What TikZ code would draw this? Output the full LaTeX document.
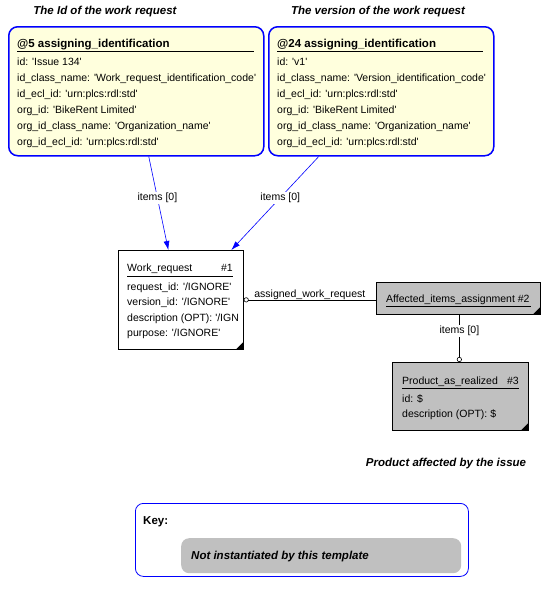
\documentclass[tikz,border=0pt]{standalone}
\usepackage{fontspec}
\setmainfont{Liberation Sans}[Ligatures=TeXOff]
\usepackage{tikz}
\usetikzlibrary{arrows.meta}
\usetikzlibrary{positioning}
\definecolor{idyellow}{RGB}{255,255,221}
\definecolor{tplgray}{RGB}{192,192,192}
\tikzset{
  idbox/.style={draw=blue, line width=1.5pt, rounded corners=9pt, fill=idyellow, anchor=north west, inner sep=0pt},
  entbox/.style={draw=black, line width=0.7pt, anchor=north west, inner sep=0pt},
  attr/.style={anchor=base west, inner sep=0pt, font=\fontsize{10.5}{12}\selectfont},
  head/.style={anchor=base west, inner sep=0pt, font=\bfseries\fontsize{11.5}{13}\selectfont},
  note/.style={anchor=base, inner sep=0pt, font=\bfseries\itshape\fontsize{11.5}{13}\selectfont},
  ref/.style={blue, line width=0.6pt, -{Latex[length=9pt,width=6pt]}},
  role/.style={fill=white, text=black, inner sep=1pt, font=\fontsize{10.5}{12}\selectfont},
}
\begin{document}
\begin{tikzpicture}[x=1pt,y=-1pt]
\useasboundingbox (0,0) rectangle (549,590);
% draws boxes
\node[idbox, minimum width=255pt, minimum height=129pt] (id5) at (8,26) {};
\node[idbox, minimum width=225pt, minimum height=129pt] (id24) at (268,26) {};
\node[entbox, fill=white, minimum width=125pt, minimum height=99pt] (wr) at (118,250) {};
\node[entbox, fill=tplgray, minimum width=164pt, minimum height=32pt] (aff) at (376,282) {};
\node[entbox, fill=tplgray, minimum width=136pt, minimum height=68pt] (par) at (392,362) {};
\node[draw=blue, line width=0.8pt, rounded corners=8pt, anchor=north west, minimum width=333pt, minimum height=73pt] (key) at (135,503) {};
\node[fill=tplgray, rounded corners=8pt, anchor=north west, minimum width=280pt, minimum height=35pt] (tpl) at (181,538) {};
% corner marks
\fill ([xshift=-8pt]wr.south east) -- (wr.south east) -- ([yshift=8pt]wr.south east) -- cycle;
\fill ([xshift=-8pt]aff.south east) -- (aff.south east) -- ([yshift=8pt]aff.south east) -- cycle;
\fill ([xshift=-8pt]par.south east) -- (par.south east) -- ([yshift=8pt]par.south east) -- cycle;
% titles
\node[note] (t5) at (105,14) {The Id of the work request};
\node[note] (t24) at (378,14) {The version of the work request};
\node[note] (tpar) at (446,466) {Product affected by the issue};
% @5
\node[head] (h5) at (17,47) {@5 assigning\_identification};
\draw[line width=0.8pt] (17,51) -- (254,51);
\node[attr] (a51) at (17,65) {id: 'Issue 134'};
\node[attr] (a52) at (17,81) {id\_class\_name: 'Work\_request\_identification\_code'};
\node[attr] (a53) at (17,97) {id\_ecl\_id: 'urn:plcs:rdl:std'};
\node[attr] (a54) at (17,113) {org\_id: 'BikeRent Limited'};
\node[attr] (a55) at (17,129) {org\_id\_class\_name: 'Organization\_name'};
\node[attr] (a56) at (17,145) {org\_id\_ecl\_id: 'urn:plcs:rdl:std'};
% @24
\node[head] (h24) at (277,47) {@24 assigning\_identification};
\draw[line width=0.8pt] (277,51) -- (483,51);
\node[attr] (a241) at (277,65) {id: 'v1'};
\node[attr] (a242) at (277,81) {id\_class\_name: 'Version\_identification\_code'};
\node[attr] (a243) at (277,97) {id\_ecl\_id: 'urn:plcs:rdl:std'};
\node[attr] (a244) at (277,113) {org\_id: 'BikeRent Limited'};
\node[attr] (a245) at (277,129) {org\_id\_class\_name: 'Organization\_name'};
\node[attr] (a246) at (277,145) {org\_id\_ecl\_id: 'urn:plcs:rdl:std'};
% Work_request
\node[attr] (hwr) at (127,271) {Work\_request};
\node[attr, anchor=base east] (nwr) at (233,271) {\#1};
\draw[line width=0.7pt] (127,276) -- (233,276);
\node[attr] (wr1) at (127,290) {request\_id: '/IGNORE'};
\node[attr] (wr2) at (127,305) {version\_id: '/IGNORE'};
\node[attr] (wr3) at (127,321) {description (OPT): '/IGN};
\node[attr] (wr4) at (127,336) {purpose: '/IGNORE'};
% Affected_items_assignment
\node[attr] (haff) at (386,302) {Affected\_items\_assignment \#2};
\draw[line width=0.7pt] (386,306) -- (531,306);
% Product_as_realized
\node[attr] (hpar) at (402,384) {Product\_as\_realized};
\node[attr, anchor=base east] (npar) at (519,384) {\#3};
\draw[line width=0.7pt] (402,388) -- (519,388);
\node[attr] (par1) at (402,402) {id: \$};
\node[attr] (par2) at (402,417) {description (OPT): \$};
% key
\node[head] (hkey) at (143,524) {Key:};
\node[head, font=\bfseries\itshape\fontsize{11.5}{13}\selectfont] (ntpl) at (191,559) {Not instantiated by this template};
% draws edges
\draw[ref] ([xshift=12.5pt]id5.south) to node[role, pos=0.44] {items [0]} ([xshift=-12.5pt]wr.north);
\draw[ref] ([xshift=-62.5pt]id24.south) to node[role, pos=0.44] {items [0]} ([xshift=50.5pt]wr.north);
\draw[{Circle[open,length=5pt]}-, line width=0.6pt] (wr.east) to node[midway, anchor=base, inner sep=0pt, yshift=2.5pt, font=\fontsize{10.5}{12}\selectfont] {assigned\_work\_request} (wr.east -| aff.west);
\draw[-{Circle[open,length=5pt]}, line width=0.6pt] ([xshift=1pt]aff.south) to node[role, pos=0.35] {items [0]} ([xshift=1pt]aff.south |- par.north);
\end{tikzpicture}
\end{document}
